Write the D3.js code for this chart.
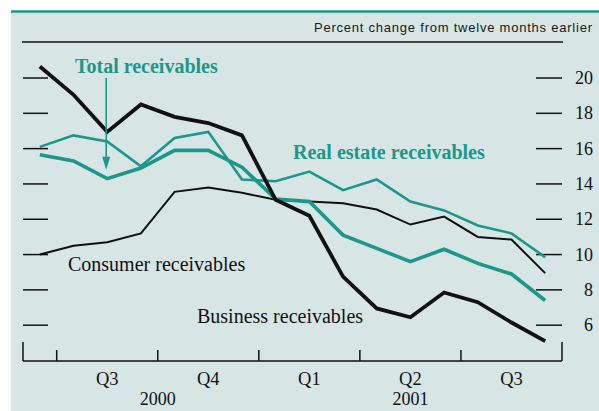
<!DOCTYPE html>
<html>
<head>
<meta charset="utf-8">
<script src="https://cdn.jsdelivr.net/npm/d3@7"></script>
<style>
  html, body { margin: 0; padding: 0; background: #ffffff; }
  svg { display: block; }
</style>
</head>
<body>
<svg id="chart" width="599" height="411"></svg>
<script>
// ---- Data (monthly, June 2000 – September 2001) ----
const months = ["2000-06","2000-07","2000-08","2000-09","2000-10","2000-11","2000-12",
                "2001-01","2001-02","2001-03","2001-04","2001-05","2001-06","2001-07","2001-08","2001-09"];
const business   = [20.65, 19.05, 16.95, 18.5, 17.8, 17.45, 16.75, 13.1, 12.2, 8.75, 6.95, 6.45, 7.85, 7.3, 6.15, 5.1];
const consumer   = [10.0, 10.5, 10.7, 11.2, 13.55, 13.8, 13.5, 13.1, 13.0, 12.9, 12.55, 11.7, 12.15, 11.0, 10.85, 8.95];
const total      = [15.65, 15.3, 14.3, 14.9, 15.9, 15.9, 14.95, 13.15, 13.0, 11.1, 10.35, 9.6, 10.3, 9.5, 8.9, 7.4];
const realEstate = [16.1, 16.75, 16.4, 15.0, 16.6, 16.95, 14.25, 14.15, 14.7, 13.65, 14.25, 13.0, 12.5, 11.65, 11.2, 9.85];
const yTicks = [6, 8, 10, 12, 14, 16, 18, 20];
const quarterStarts = ["2000-07","2000-10","2001-01","2001-04","2001-07"];
const quarterLabels = [
  {label: "Q3", months: ["2000-07","2000-08","2000-09"]},
  {label: "Q4", months: ["2000-10","2000-11","2000-12"]},
  {label: "Q1", months: ["2001-01","2001-02","2001-03"]},
  {label: "Q2", months: ["2001-04","2001-05","2001-06"]},
  {label: "Q3", months: ["2001-07","2001-08","2001-09"]}
];
const yearLabels = [{label: "2000", at: "2000-10"}, {label: "2001", at: "2001-05"}];
const headerText = "Percent change from twelve months earlier";

// ---- Styles ----
const TEAL = "#1c978a";
const BG = "#d7e5e5";
const INK = "#111111";

const svg = d3.select("#chart");

// background panel
svg.append("rect").attr("x", 11).attr("y", 11).attr("width", 588).attr("height", 400).attr("fill", BG);
svg.append("line").attr("x1", 11).attr("x2", 599).attr("y1", 11.5).attr("y2", 11.5)
  .attr("stroke", TEAL).attr("stroke-width", 2.5);

// header
svg.append("text").attr("x", 592).attr("y", 32).attr("text-anchor", "end")
  .attr("font-family", "Liberation Sans, Arial, sans-serif").attr("font-size", 13)
  .attr("textLength", 278).attr("lengthAdjust", "spacing")
  .attr("fill", "#1a1a1a").text(headerText);
svg.append("line").attr("x1", 22).attr("x2", 563).attr("y1", 42).attr("y2", 42)
  .attr("stroke", INK).attr("stroke-width", 1.5);

// ---- Scales ----
const left = 23, right = 562, bottom = 361;
const x = d3.scaleBand().domain(months).range([left, right]).padding(0);
const xc = m => x(m) + x.bandwidth() / 2;
const y = d3.scaleLinear().domain([4, 20]).range([360.5, 78]);

// bottom axis line and edge ticks
const axisG = svg.append("g").attr("stroke", INK).attr("stroke-width", 1.5);
axisG.append("line").attr("x1", left).attr("x2", right).attr("y1", bottom).attr("y2", bottom);
axisG.append("line").attr("x1", left).attr("x2", left).attr("y1", 342).attr("y2", bottom);
axisG.append("line").attr("x1", right).attr("x2", right).attr("y1", 342).attr("y2", bottom);
axisG.selectAll(".qt").data(quarterStarts).join("line")
  .attr("x1", d => x(d)).attr("x2", d => x(d)).attr("y1", 350).attr("y2", bottom);

// y ticks left and right
const tickG = svg.append("g").attr("stroke", INK).attr("stroke-width", 1.5);
tickG.selectAll(".lt").data(yTicks).join("line")
  .attr("x1", left).attr("x2", 48).attr("y1", d => y(d)).attr("y2", d => y(d));
tickG.selectAll(".rt").data(yTicks).join("line")
  .attr("x1", 536).attr("x2", right).attr("y1", d => y(d)).attr("y2", d => y(d));
svg.append("g").selectAll("text").data(yTicks).join("text")
  .attr("x", 593).attr("y", d => y(d) + 6).attr("text-anchor", "end")
  .attr("font-family", "Liberation Serif, Times New Roman, serif").attr("font-size", 18)
  .attr("fill", INK).text(d => d);

// quarter & year labels
svg.append("g").selectAll("text").data(quarterLabels).join("text")
  .attr("x", d => xc(d.months[1])).attr("y", 385).attr("text-anchor", "middle")
  .attr("font-family", "Liberation Serif, Times New Roman, serif").attr("font-size", 18.5)
  .attr("fill", INK).text(d => d.label);
svg.append("g").selectAll("text").data(yearLabels).join("text")
  .attr("x", d => x(d.at) + (d.at === "2000-10" ? 0 : x.bandwidth() / 2)).attr("y", 405).attr("text-anchor", "middle")
  .attr("font-family", "Liberation Serif, Times New Roman, serif").attr("font-size", 18)
  .attr("fill", INK).text(d => d.label);

// ---- Lines ----
const line = d3.line().x((d, i) => xc(months[i])).y(d => y(d)).curve(d3.curveLinear);
const series = [
  {values: consumer, color: INK, width: 2},
  {values: realEstate, color: TEAL, width: 2.6},
  {values: total, color: TEAL, width: 3.6},
  {values: business, color: INK, width: 3.8}
];
svg.append("g").selectAll("path").data(series).join("path")
  .attr("d", d => line(d.values)).attr("fill", "none")
  .attr("stroke", d => d.color).attr("stroke-width", d => d.width)
  .attr("stroke-linejoin", "miter").attr("stroke-linecap", "butt");

// ---- Annotations ----
const serif = "Liberation Serif, Times New Roman, serif";
svg.append("text").attr("x", 75).attr("y", 73).attr("font-family", serif).attr("font-size", 20)
  .attr("font-weight", "bold").attr("fill", TEAL).text("Total receivables");
svg.append("text").attr("x", 293).attr("y", 159).attr("font-family", serif).attr("font-size", 20)
  .attr("font-weight", "bold").attr("fill", TEAL).text("Real estate receivables");
svg.append("text").attr("x", 68).attr("y", 271).attr("font-family", serif).attr("font-size", 20)
  .attr("fill", INK).text("Consumer receivables");
svg.append("text").attr("x", 197).attr("y", 323).attr("font-family", serif).attr("font-size", 20)
  .attr("fill", INK).text("Business receivables");

// arrow from "Total receivables" to the total line (August 2000)
const ax = xc("2000-08") - 1;
const tipY = y(total[2]) - 9;
svg.append("line").attr("x1", ax).attr("x2", ax).attr("y1", 78).attr("y2", tipY - 10)
  .attr("stroke", TEAL).attr("stroke-width", 1.6);
svg.append("path")
  .attr("d", `M${ax - 4},${tipY - 13} L${ax + 4},${tipY - 13} L${ax},${tipY} Z`)
  .attr("fill", TEAL);
</script>
</body>
</html>
